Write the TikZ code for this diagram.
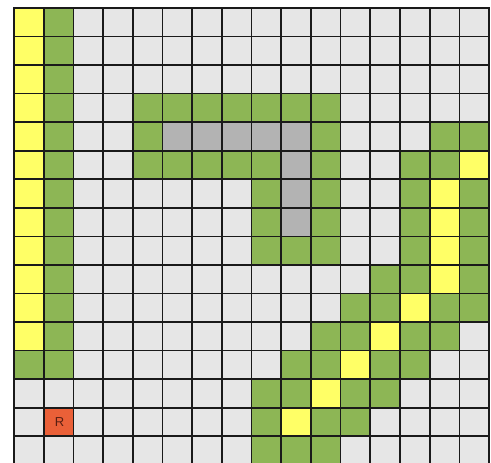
\documentclass[tikz,border=0pt]{standalone}
\usepackage{fontspec}
\setmainfont{Liberation Sans}
\definecolor{cY}{HTML}{FFFF66}
\definecolor{cG}{HTML}{8DB655}
\definecolor{cL}{HTML}{E6E6E6}
\definecolor{cD}{HTML}{B3B3B3}
\definecolor{cR}{HTML}{EA6038}
\definecolor{gridline}{HTML}{1A1A1A}
\definecolor{rtext}{HTML}{5A1E12}
\tikzset{
  cell/.style={draw=gridline, line width=1.7pt, rectangle, inner sep=0pt,
    minimum width=29.69pt, minimum height=28.55pt},
}
\begin{document}
\begin{tikzpicture}[x=1pt,y=1pt]
\useasboundingbox (0,0) rectangle (491,463);
\clip (0,0) rectangle (491,463);
\fill[white] (0,0) rectangle (491,463);
\foreach \row [count=\r from 0] in {
  {Y,G,L,L,L,L,L,L,L,L,L,L,L,L,L,L},
  {Y,G,L,L,L,L,L,L,L,L,L,L,L,L,L,L},
  {Y,G,L,L,L,L,L,L,L,L,L,L,L,L,L,L},
  {Y,G,L,L,G,G,G,G,G,G,G,L,L,L,L,L},
  {Y,G,L,L,G,D,D,D,D,D,G,L,L,L,G,G},
  {Y,G,L,L,G,G,G,G,G,D,G,L,L,G,G,Y},
  {Y,G,L,L,L,L,L,L,G,D,G,L,L,G,Y,G},
  {Y,G,L,L,L,L,L,L,G,D,G,L,L,G,Y,G},
  {Y,G,L,L,L,L,L,L,G,G,G,L,L,G,Y,G},
  {Y,G,L,L,L,L,L,L,L,L,L,L,G,G,Y,G},
  {Y,G,L,L,L,L,L,L,L,L,L,G,G,Y,G,G},
  {Y,G,L,L,L,L,L,L,L,L,G,G,Y,G,G,L},
  {G,G,L,L,L,L,L,L,L,G,G,Y,G,G,L,L},
  {L,L,L,L,L,L,L,L,G,G,Y,G,G,L,L,L},
  {L,R,L,L,L,L,L,L,G,Y,G,G,L,L,L,L},
  {L,L,L,L,L,L,L,L,G,G,G,L,L,L,L,L}}{
  \foreach \col [count=\c from 0] in \row {
    \node[cell, fill=c\col] (cell-\r-\c) at ({14+(\c+0.5)*29.69},{455-(\r+0.5)*28.55}) {};
  }
}
\node[text=rtext, font=\fontsize{13}{15}\selectfont] (rlabel) at ([xshift=1pt]cell-14-1.center) {R};
\end{tikzpicture}
\end{document}
